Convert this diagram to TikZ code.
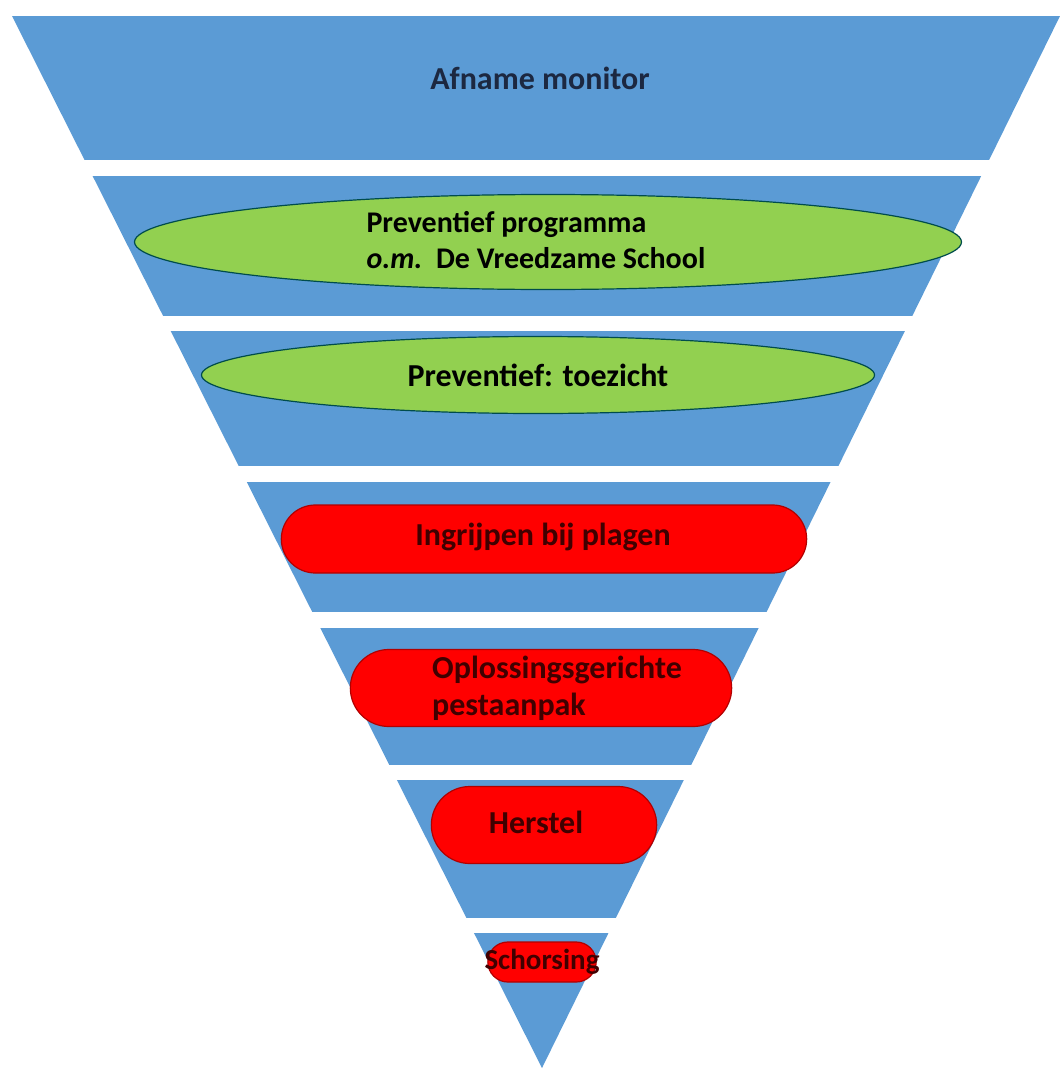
\documentclass[tikz,border=0pt]{standalone}
\usepackage{fontspec}
\setmainfont{Carlito}
\usepackage{xcolor}
\usepackage{tikz}
\usetikzlibrary{shapes.geometric,shapes.misc}

\definecolor{bandblue}{HTML}{5B9BD5}
\definecolor{pillgreen}{HTML}{92D050}
\definecolor{pillred}{HTML}{FF0000}
\definecolor{titlenavy}{HTML}{1C2841}
\definecolor{redtext}{HTML}{400000}

\tikzset{
  lbl/.style={font=\bfseries\fontsize{32}{37}\selectfont, inner sep=0pt},
  greenpill/.style={ellipse, fill=pillgreen, draw=teal!60!black, line width=1.2pt},
  redpill/.style={rounded rectangle, fill=pillred, draw=red!70!black, line width=1.2pt},
}

\begin{document}
\begin{tikzpicture}[x=1pt,y=-1pt]
		\useasboundingbox (0,0) rectangle (1061,1070);
		%
		\begin{scope}
		\clip (12,16) -- (1060,16) -- (542,1068) -- cycle;
		\foreach \ytop/\ybot in {16/160,176/316,331/466,482/612,628/765,780/918,933/1070}
			\fill[bandblue] (0,\ytop) rectangle (1061,\ybot);
		\end{scope}
		%
		\node[lbl, text=titlenavy] (afname) at (540,78) {Afname monitor};
		%
		\node[greenpill, minimum width=827pt, minimum height=95pt] (programma) at (548,242) {};
		\node[lbl, align=left, font=\bfseries\fontsize{30}{36}\selectfont] (programmatxt) at (536,240)
			{Preventief programma\\\textit{o.m.}\ \ De Vreedzame School};
		\node[greenpill, minimum width=673pt, minimum height=77pt] (toezicht) at (538,375) {};
		\node[lbl] (toezichttxt) at (toezicht) {Preventief: toezicht};
		%
		\node[redpill, minimum width=532pt, minimum height=68pt] (plagen) at (544,539) {};
		\node[lbl, text=redtext] (plagentxt) at (543,537) {Ingrijpen bij plagen};
		\node[redpill, minimum width=388pt, minimum height=77pt] (pestaanpak) at (541,688) {};
		\node[lbl, text=redtext, align=left] (pestaanpaktxt) at (557,688) {Oplossingsgerichte\\pestaanpak};
		\node[redpill, minimum width=232pt, minimum height=77pt] (herstel) at (544,825) {};
		\node[lbl, text=redtext] (hersteltxt) at (536,822) {Herstel};
		\node[redpill, minimum width=115pt, minimum height=40pt] (schorsing) at (542,962) {};
		\node[lbl, text=redtext, font=\bfseries\fontsize{29}{34}\selectfont] (schorsingtxt) at (schorsing) {Schorsing};
\end{tikzpicture}
\end{document}
